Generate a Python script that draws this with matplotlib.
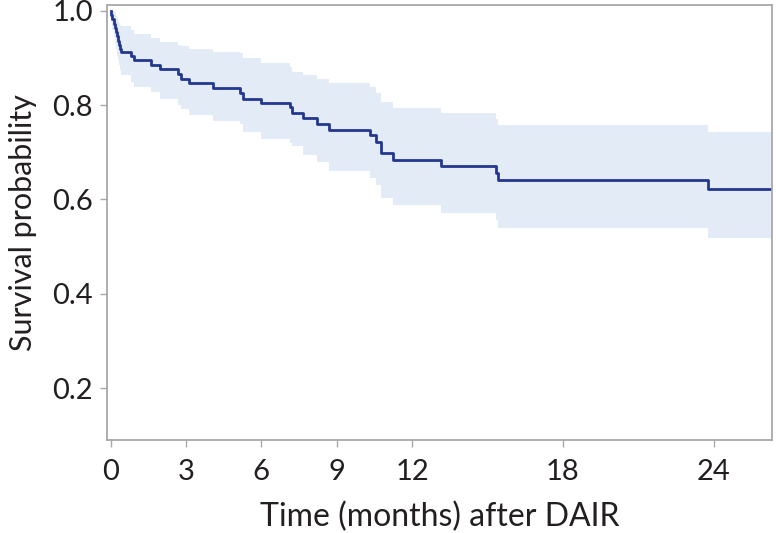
import matplotlib
matplotlib.use("Agg")
import matplotlib.pyplot as plt

# Kaplan-Meier estimate (months, survival, 95% CI)
times = [0.0, 0.03, 0.07, 0.12, 0.18, 0.23, 0.27, 0.31, 0.35, 0.38, 0.41,
         0.82, 0.95, 1.62, 1.97, 2.70, 2.80, 3.12, 4.09, 5.15, 5.26, 5.97,
         7.14, 7.23, 7.66, 8.20, 8.69, 10.33, 10.56, 10.78, 11.25, 13.13,
         15.33, 15.42, 23.77, 26.3]
surv = [1.0, 0.991, 0.982, 0.973, 0.964, 0.955, 0.946, 0.937, 0.928, 0.920, 0.913,
        0.905, 0.896, 0.886, 0.876, 0.865, 0.855, 0.846, 0.837, 0.826, 0.814, 0.805,
        0.797, 0.784, 0.772, 0.760, 0.747, 0.736, 0.722, 0.698, 0.684, 0.670,
        0.656, 0.641, 0.622, 0.622]
upper = [1.0, 1.0, 1.0, 1.0, 0.995, 0.99, 0.985, 0.98, 0.975, 0.97, 0.968,
         0.959, 0.950, 0.942, 0.934, 0.927, 0.925, 0.920, 0.913, 0.910, 0.899, 0.889,
         0.880, 0.871, 0.864, 0.855, 0.846, 0.838, 0.826, 0.807, 0.795, 0.783,
         0.770, 0.758, 0.744, 0.744]
lower = [1.0, 0.975, 0.96, 0.945, 0.93, 0.92, 0.905, 0.895, 0.885, 0.875, 0.864,
         0.850, 0.839, 0.827, 0.813, 0.800, 0.792, 0.779, 0.767, 0.761, 0.744, 0.728,
         0.720, 0.713, 0.694, 0.680, 0.660, 0.646, 0.631, 0.603, 0.588, 0.572,
         0.556, 0.539, 0.518, 0.518]

xticks = [0, 3, 6, 9, 12, 18, 24]
yticks = [0.2, 0.4, 0.6, 0.8, 1.0]

plt.rcParams["font.family"] = ["Lato", "DejaVu Sans"]
text_col = "#231f20"
frame_col = "#a8a8a8"

fig = plt.figure(figsize=(7.76, 5.33), dpi=100)
ax = fig.add_axes([107 / 776, 1 - 440 / 533, (771.5 - 107) / 776, (440 - 4.7) / 533])

ax.fill_between(times, lower, upper, step="post", color="#e3ebf7", linewidth=0)
ax.step(times, surv, where="post", color="#24378f", linewidth=2.0)

ax.set_xlim(-0.14, 26.3)
ax.set_ylim(0.09, 1.013)
ax.set_xticks(xticks)
ax.set_xticklabels([str(t) for t in xticks])
ax.set_yticks(yticks)
ax.set_yticklabels([f"{v:.1f}" for v in yticks])

for s in ax.spines.values():
    s.set_color(frame_col)
    s.set_linewidth(1.3)
ax.tick_params(colors=frame_col, labelcolor=text_col, length=5, width=1.0,
               labelsize=21)
ax.tick_params(axis="x", pad=9)
ax.tick_params(axis="y", pad=5)

ax.set_xlabel("Time (months) after DAIR", fontsize=23, color=text_col, labelpad=12)
ax.set_ylabel("Survival probability", fontsize=22, color=text_col, labelpad=11)

fig.savefig("out.png", dpi=100)
